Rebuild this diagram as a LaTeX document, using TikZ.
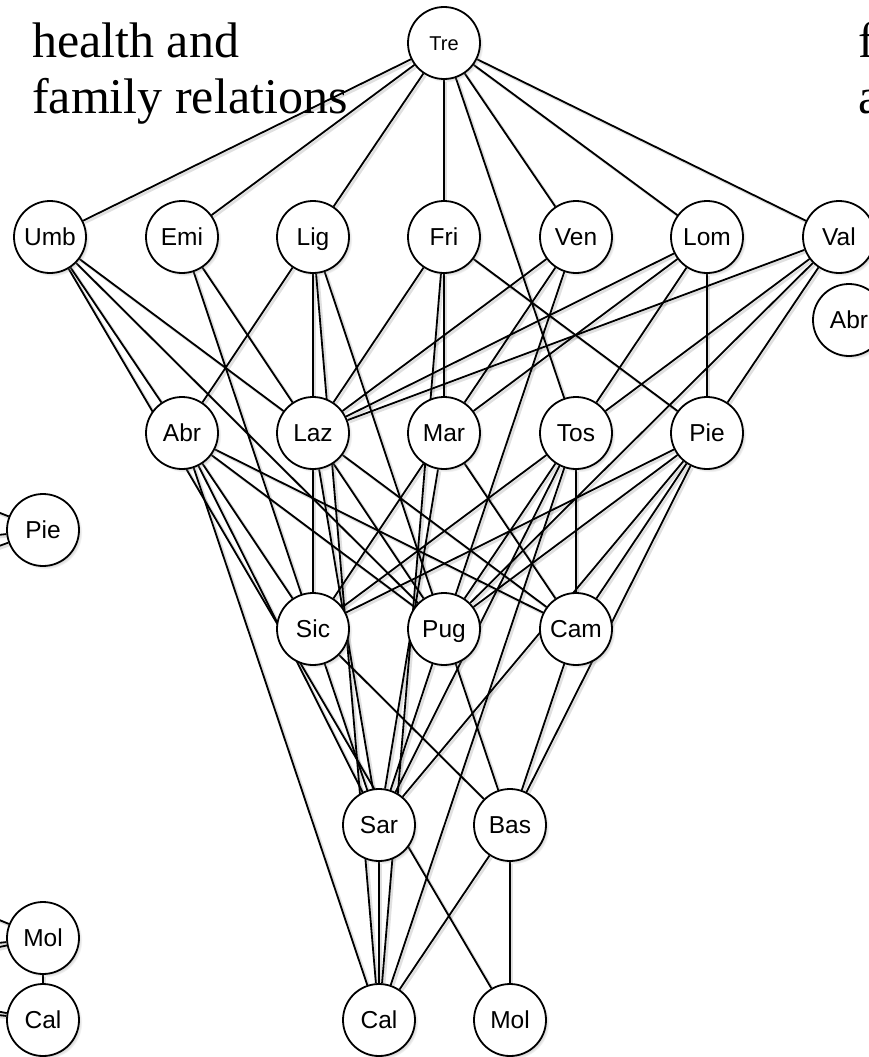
\documentclass[tikz,border=0pt]{standalone}
\usepackage{fontspec}
\newfontfamily\regsans{Liberation Sans}
\newfontfamily\titleserif{Liberation Serif}
\usetikzlibrary{shadows}
\pgfdeclarelayer{bg}
\pgfdeclarelayer{paper}
\pgfsetlayers{paper,bg,main}
\tikzset{
  reg/.style={circle, draw=black, line width=1.8pt, fill=white, minimum size=72pt, inner sep=0pt,
    text height=17.5pt, text depth=0pt,
    font={\regsans\fontsize{24.5}{25}\selectfont},
    circular drop shadow={shadow xshift=2.5pt, shadow yshift=-2.5pt, opacity=0.45, shadow scale=1.02}},
  small/.style={font={\regsans\fontsize{20}{20}\selectfont}, text height=14.5pt},
  link/.style={line width=1.8pt, black},
  linkshadow/.style={line width=2.6pt, black, opacity=0.12, transform canvas={xshift=2pt, yshift=-2pt}},
  title/.style={font={\titleserif\fontsize{50}{50}\selectfont}, inner sep=0pt, anchor=base west}
}
\begin{document}
\begin{tikzpicture}[x=1pt,y=-1pt]
\useasboundingbox (0,0) rectangle (868,1057);
\begin{pgfonlayer}{paper}
\fill[white] (0,0) rectangle (868,1057);
\end{pgfonlayer}
% titles
\node[title] (t1) at (32,57) {health and};
\node[title] (t2) at (32,113) {family relations};
\node[title] (t3) at (858,57) {f};
\node[title] (t4) at (858,113) {a};
% nodes
\node[reg,small] (tre) at (444,43) {Tre};
\node[reg] (umb) at (50,237) {Umb};
\node[reg] (emi) at (182,237) {Emi};
\node[reg] (lig) at (313,237) {Lig};
\node[reg] (fri) at (444,237) {Fri};
\node[reg] (ven) at (576,237) {Ven};
\node[reg] (lom) at (707,237) {Lom};
\node[reg] (val) at (839,237) {Val};
\node[reg] (abrR) at (849,320) {Abr};
\node[reg] (abr) at (182,433) {Abr};
\node[reg] (laz) at (313,433) {Laz};
\node[reg] (mar) at (444,433) {Mar};
\node[reg] (tos) at (576,433) {Tos};
\node[reg] (pie) at (707,433) {Pie};
\node[reg] (pieL) at (43,530) {Pie};
\node[reg] (sic) at (313,629) {Sic};
\node[reg] (pug) at (444,629) {Pug};
\node[reg] (cam) at (576,629) {Cam};
\node[reg] (sar) at (379,825) {Sar};
\node[reg] (bas) at (510,825) {Bas};
\node[reg] (cal) at (379,1020) {Cal};
\node[reg] (mol) at (510,1020) {Mol};
\node[reg] (molL) at (43,938) {Mol};
\node[reg] (calL) at (43,1020) {Cal};
% off-picture ends
\coordinate (pa) at (-20,505);
\coordinate (pb) at (-20,537);
\coordinate (pc) at (-20,553);
\coordinate (ma) at (-20,912);
\coordinate (mb) at (-20,945);
\coordinate (mc) at (-20,951);
\coordinate (ca) at (-20,1008);
\coordinate (cb) at (-20,1013);
\begin{pgfonlayer}{bg}
\foreach \a/\b in {
  tre/umb, tre/emi, tre/lig, tre/fri, tre/tos, tre/ven, tre/lom, tre/val,
  umb/abr, umb/laz, umb/pug, umb/mol,
  emi/laz, emi/sic,
  lig/abr, lig/laz, lig/pug, lig/cal,
  fri/laz, fri/mar, fri/pie, fri/cal,
  ven/laz, ven/mar, ven/pug,
  lom/laz, lom/mar, lom/tos, lom/pie,
  val/laz, val/tos, val/pug, val/pie,
  abr/sic, abr/pug, abr/cam, abr/sar, abr/cal,
  laz/sic, laz/pug, laz/cam, laz/sar,
  mar/sic, mar/cam, mar/sar,
  tos/sic, tos/pug, tos/cam, tos/sar, tos/cal,
  pie/sic, pie/pug, pie/cam, pie/sar, pie/bas,
  sic/sar, sic/bas,
  pug/sar, pug/bas,
  cam/bas,
  sar/cal,
  bas/cal, bas/mol,
  pieL/pa, pieL/pb, pieL/pc,
  molL/ma, molL/mb, molL/mc, molL/calL,
  calL/ca, calL/cb}
{
  \draw[linkshadow] (\a) -- (\b);
  \draw[link] (\a) -- (\b);
}
\end{pgfonlayer}
\end{tikzpicture}
\end{document}
